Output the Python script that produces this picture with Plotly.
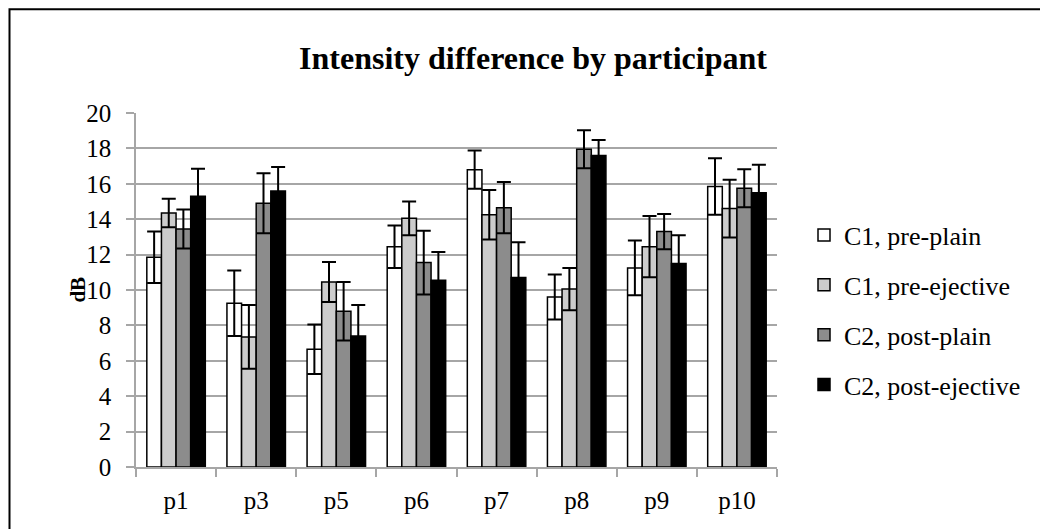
"""Intensity difference by participant: grouped bars with error bars (Plotly)."""
import plotly.graph_objects as go

participants = ["p1", "p3", "p5", "p6", "p7", "p8", "p9", "p10"]

series_names = ["C1, pre-plain", "C1, pre-ejective", "C2, post-plain", "C2, post-ejective"]

c1_pre_plain = [11.85, 9.25, 6.65, 12.45, 16.8, 9.6, 11.25, 15.85]
c1_pre_plain_err = [1.45, 1.85, 1.4, 1.2, 1.08, 1.27, 1.55, 1.6]

c1_pre_ejective = [14.35, 7.35, 10.45, 14.05, 14.25, 10.05, 12.45, 14.6]
c1_pre_ejective_err = [0.8, 1.8, 1.13, 0.95, 1.4, 1.2, 1.73, 1.63]

c2_post_plain = [13.45, 14.9, 8.8, 11.55, 14.65, 17.95, 13.3, 15.75]
c2_post_plain_err = [1.1, 1.7, 1.65, 1.8, 1.45, 1.07, 1.0, 1.07]

c2_post_ejective = [15.3, 15.6, 7.4, 10.55, 10.7, 17.6, 11.5, 15.5]
c2_post_ejective_err = [1.55, 1.35, 1.75, 1.6, 2.0, 0.88, 1.6, 1.58]

y_ticks = [0, 2, 4, 6, 8, 10, 12, 14, 16, 18, 20]

_FONT = "Liberation Serif"
_FILLS = ["#ffffff", "#cccccc", "#8c8c8c", "#000000"]

# the page puts the figure 8px in from the corner, so screen pixels are shifted
OFF = 8
W, H = 1048, 529
X0, X1 = 136 - OFF, 777 - OFF
Y_TOP, Y_BOT = 113.3 - OFF, 467.5 - OFF


def px_x(x):
    """screen x pixel -> paper coordinate"""
    return (x - OFF - X0) / (X1 - X0)


def px_y(y):
    """screen y pixel -> paper coordinate"""
    return (Y_BOT - (y - OFF)) / (Y_BOT - Y_TOP)


values = [c1_pre_plain, c1_pre_ejective, c2_post_plain, c2_post_ejective]
errors = [c1_pre_plain_err, c1_pre_ejective_err, c2_post_plain_err, c2_post_ejective_err]

fig = go.Figure()
for i, (name, vals, errs) in enumerate(zip(series_names, values, errors)):
    fig.add_trace(go.Bar(
        x=participants, y=vals, name=name, legendgroup=name,
        marker=dict(color=_FILLS[i], line=dict(color="#000000", width=1.5)),
        error_y=dict(type="data", array=errs, visible=True,
                     color="#000000", thickness=2, width=7),
    ))

fig.update_layout(
    width=W, height=H,
    margin=dict(l=X0, r=W - X1, t=Y_TOP, b=H - Y_BOT),
    paper_bgcolor="white", plot_bgcolor="white",
    barmode="group", bargap=0.27, bargroupgap=0,
    font=dict(family=_FONT, size=25, color="#000000"),
    title=dict(text="<b>Intensity difference by participant</b>",
               x=(533 - OFF) / W, xref="container", xanchor="center",
               y=1 - (58 - OFF) / H, yref="container", yanchor="middle",
               font=dict(family=_FONT, size=32, color="#000000")),
    legend=dict(x=px_x(804), y=px_y(212), xanchor="left", yanchor="top",
                font=dict(family=_FONT, size=26), tracegroupgap=13,
                bgcolor="rgba(0,0,0,0)"),
    showlegend=True,
)

fig.update_yaxes(
    range=[0, 20], tickvals=y_ticks, showgrid=True,
    gridcolor="#a6a6a6", gridwidth=1.5,
    showline=True, linecolor="#a6a6a6", linewidth=1.5,
    ticks="outside", ticklen=8, tickcolor="#a6a6a6", tickwidth=1.5,
    ticklabelstandoff=10, zeroline=False,
)
fig.update_xaxes(
    showline=True, linecolor="#a6a6a6", linewidth=1.5,
    ticks="outside", tickson="boundaries", ticklen=8,
    tickcolor="#a6a6a6", tickwidth=1.5, ticklabelstandoff=10,
    showgrid=False,
)

# y axis title
fig.add_annotation(text="<b>dB</b>", xref="paper", yref="paper",
                   x=px_x(64), y=px_y(290), showarrow=False, textangle=-90,
                   font=dict(family=_FONT, size=21, color="#000000"))

# outer chart frame (left/top edges kept just inside the figure)
fig.add_shape(type="rect", xref="paper", yref="paper",
              x0=px_x(OFF + 1.5), x1=px_x(1044), y0=px_y(545), y1=px_y(OFF + 1.5),
              line=dict(color="#000000", width=2), fillcolor="rgba(0,0,0,0)",
              layer="above")

fig.write_html("out.html")
